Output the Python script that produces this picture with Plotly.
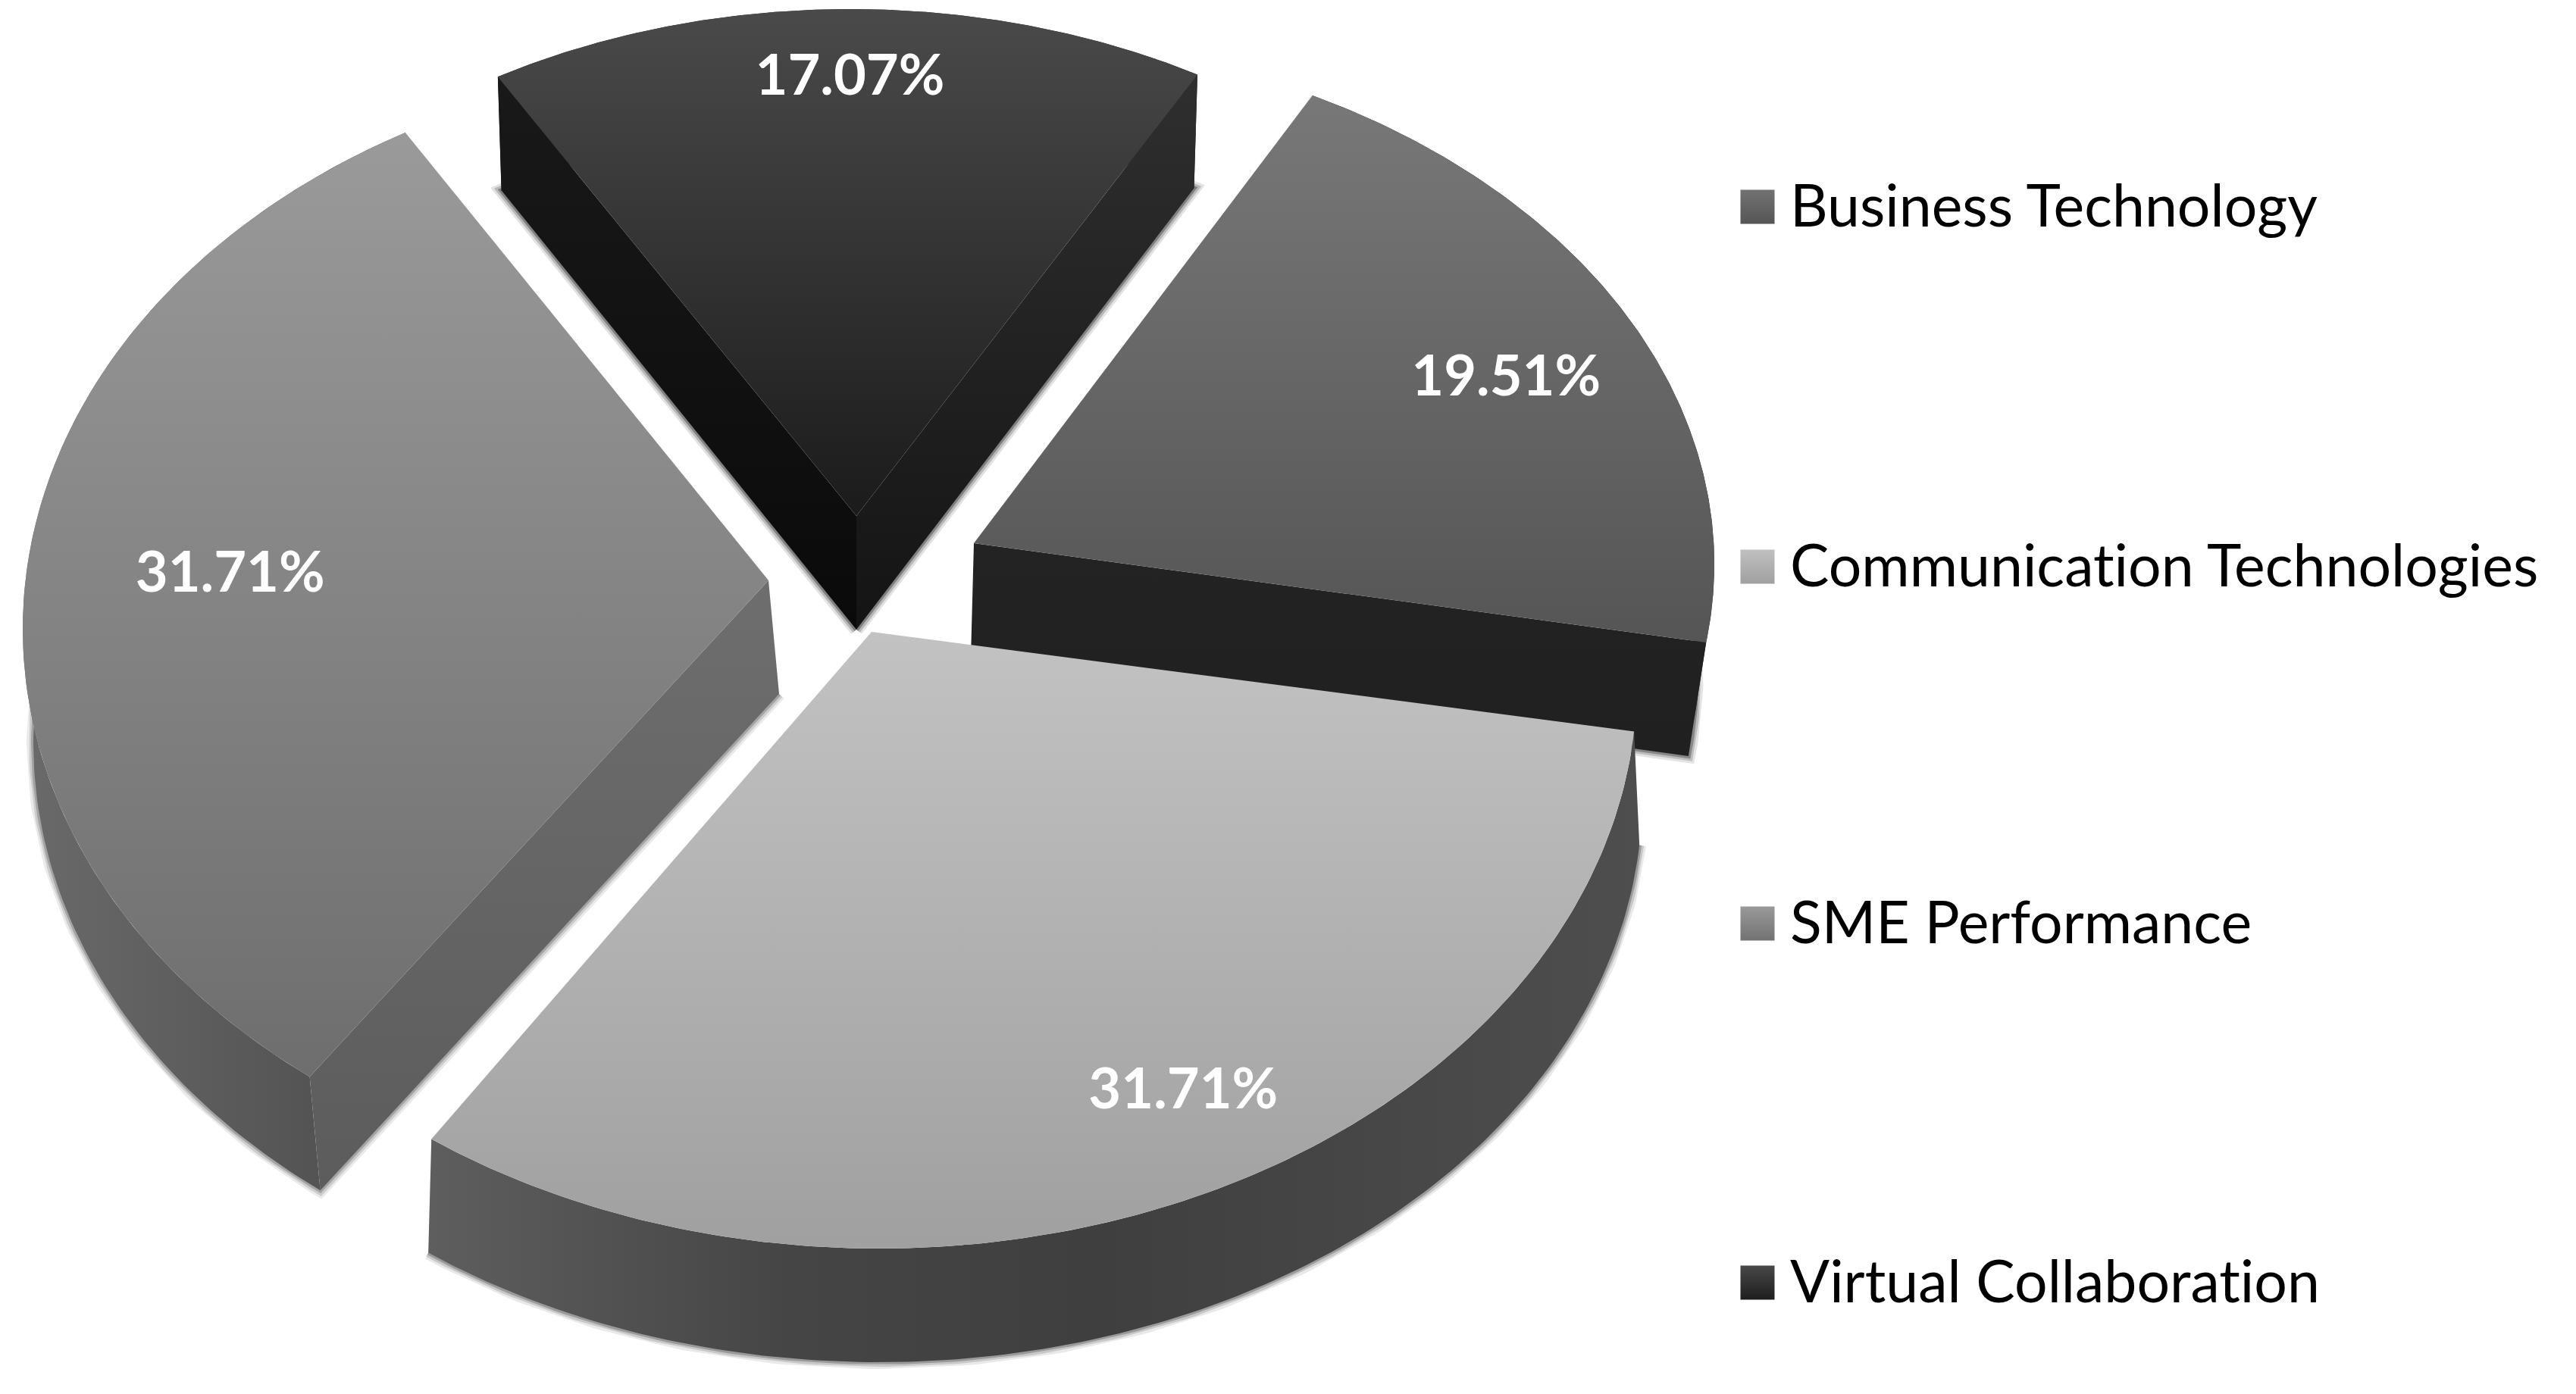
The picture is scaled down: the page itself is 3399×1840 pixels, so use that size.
import math
import plotly.graph_objects as go

# ---- data ----
categories = ["Business Technology", "Communication Technologies", "SME Performance", "Virtual Collaboration"]
shares = [19.51, 31.71, 31.71, 17.07]

# ---- styling of the exploded, tilted pie ----
W, H = 3399, 1840
ROTATION = 28.0
DEPTH = 150
TEXT_DY = 7
apex_x = [1285, 1150, 1014, 1130]
apex_y = [717, 834, 766, 681]
# direction spread used to turn pie angles into on-screen rays
radius_x = [995, 1010, 984, 940]
radius_far = [665, 665, 666, 669]
radius_near = [812, 812, 826, 812]
# perspective ellipse each slice's rim lies on
ellipse_cx = [1285, 1160, 1014, 1122]
ellipse_cy = [745, 900, 830, 694]
ellipse_a = [977, 1000, 984, 940]
ellipse_b = [696, 748, 750, 682]
edge_nudge = [(-1.2, 1.2), (1.0, 2.5), (5.4, 4.7), (3.3, 0.8)]
wall_squeeze = [0.98, 1.007, 1.0, 0.99]
wall_shift = [-4, 0, 14, 0]
show_start_wall = [False, False, True, True]
show_end_wall = [True, False, False, True]
top_shades = [("#787878", "#555555"), ("#c2c2c2", "#a0a0a0"), ("#9a9a9a", "#6e6e6e"), ("#4a4a4a", "#1b1b1b")]
start_wall = [("#2a2a2a", "#2a2a2a"), ("#4a4a4a", "#4a4a4a"), ("#6e6e6e", "#5c5c5c"), ("#191919", "#0a0a0a")]
end_wall = [("#232323", "#202020"), ("#4a4a4a", "#4a4a4a"), ("#6e6e6e", "#5c5c5c"), ("#2f2f2f", "#141414")]
arc_wall = [
    [[0, "#232323"], [1, "#2a2a2a"]],
    [[0, "#5e5e5e"], [0.3, "#454545"], [0.55, "#3f3f3f"], [1, "#4e4e4e"]],
    [[0, "#6a6a6a"], [1, "#4c4c4c"]],
    [[0, "#2a2a2a"], [1, "#2a2a2a"]],
]
halo_rgb = ["34,34,34", "70,70,70", "85,85,85", "20,20,20"]
draw_order = [3, 0, 2, 1]
label_angle = [64.8, 151.3, 271.2, -0.6]
label_frac = [0.78, 0.848, 0.722, 0.87]
legend_y = [273, 748, 1219, 1693]
legend_swatch = [("#727272", "#555555"), ("#c0c0c0", "#a0a0a0"), ("#999999", "#727272"), ("#484848", "#1e1e1e")]
LEGEND_SWATCH_X, LEGEND_TEXT_X = 2319, 2362

# edges of each slice follow from the values
edges = []
running = ROTATION
for i, share in enumerate(shares):
    span = share / sum(shares) * 360
    edges.append((running + edge_nudge[i][0], running + span + edge_nudge[i][1]))
    running += span


def direction(i, deg):
    t = math.radians(deg)
    c = math.cos(t)
    ry = radius_far[i] if c > 0 else radius_near[i]
    return radius_x[i] * math.sin(t), -ry * c


def rim(i, deg):
    # where the ray from the slice tip meets the slice's perspective ellipse
    dx, dy = direction(i, deg)
    px = (apex_x[i] - ellipse_cx[i]) / ellipse_a[i]
    py = (apex_y[i] - ellipse_cy[i]) / ellipse_b[i]
    qx, qy = dx / ellipse_a[i], dy / ellipse_b[i]
    A = qx * qx + qy * qy
    B = 2 * (px * qx + py * qy)
    C = px * px + py * py - 1
    t = (-B + math.sqrt(B * B - 4 * A * C)) / (2 * A)
    return apex_x[i] + t * dx, apex_y[i] + t * dy


def label_point(i):
    dx, dy = direction(i, label_angle[i])
    return apex_x[i] + label_frac[i] * dx, apex_y[i] + label_frac[i] * dy + TEXT_DY


def lower(i, p):
    return apex_x[i] + (p[0] - apex_x[i]) * wall_squeeze[i] + wall_shift[i], p[1] + DEPTH


def poly(points, grad_type, scale):
    xs = [p[0] for p in points] + [points[0][0]]
    ys = [p[1] for p in points] + [points[0][1]]
    axis = xs if grad_type == "horizontal" else ys
    return go.Scatter(
        x=xs, y=ys, mode="lines", line=dict(width=0), fill="toself",
        fillgradient=dict(type=grad_type, colorscale=scale, start=min(axis), stop=max(axis)),
        hoverinfo="skip", showlegend=False,
    )


def two(c):
    return [[0, c[0]], [1, c[1]]]


fig = go.Figure()
for i in draw_order:
    a0, a1 = edges[i]
    n = 160
    arc = [rim(i, a0 + (a1 - a0) * k / n) for k in range(n + 1)]
    apex = (apex_x[i], apex_y[i])
    arc_low = [lower(i, p) for p in arc]
    apex_low = lower(i, apex)

    # soft lower edge
    ring = arc_low[:]
    if show_start_wall[i]:
        ring = [apex_low] + ring
    if show_end_wall[i]:
        ring = ring + [apex_low]
    for width, alpha in ((18, 0.12), (12, 0.2), (6, 0.35)):
        fig.add_trace(go.Scatter(
            x=[p[0] for p in ring], y=[p[1] for p in ring], mode="lines",
            line=dict(width=width, color=f"rgba({halo_rgb[i]},{alpha})"),
            hoverinfo="skip", showlegend=False,
        ))

    fig.add_trace(poly(arc + arc_low[::-1], "horizontal", arc_wall[i]))
    if show_start_wall[i]:
        fig.add_trace(poly([apex, arc[0], arc_low[0], apex_low], "vertical", two(start_wall[i])))
    if show_end_wall[i]:
        fig.add_trace(poly([apex, arc[-1], arc_low[-1], apex_low], "vertical", two(end_wall[i])))
    fig.add_trace(poly([apex] + arc, "vertical", two(top_shades[i])))

# percentage labels
label_pts = [label_point(i) for i in range(len(shares))]
fig.add_trace(go.Scatter(
    x=[p[0] for p in label_pts], y=[p[1] for p in label_pts], mode="text",
    text=[f"{s:.2f}%" for s in shares], textposition="middle center",
    textfont=dict(family="Lato, Open Sans, sans-serif", size=74, color="white", weight="bold"),
    hoverinfo="skip", showlegend=False,
))

# legend column
for i, name in enumerate(categories):
    fig.add_trace(go.Scatter(
        x=[LEGEND_SWATCH_X], y=[legend_y[i]], mode="markers",
        marker=dict(symbol="square", size=45, color=legend_swatch[i][0], line=dict(width=0),
                    gradient=dict(type="vertical", color=legend_swatch[i][1])),
        name=name, hoverinfo="name", showlegend=False,
    ))
fig.add_trace(go.Scatter(
    x=[LEGEND_TEXT_X] * len(categories), y=[y + TEXT_DY for y in legend_y], mode="text", text=categories,
    textposition="middle right",
    textfont=dict(family="Lato, Open Sans, sans-serif", size=77, color="#000000"),
    hoverinfo="skip", showlegend=False,
))

fig.update_layout(
    width=W, height=H, margin=dict(l=0, r=0, t=0, b=0),
    paper_bgcolor="white", plot_bgcolor="white", showlegend=False,
    xaxis=dict(range=[0, W], visible=False, fixedrange=True),
    yaxis=dict(range=[H, 0], visible=False, fixedrange=True),
)
post = """
document.body.style.margin = '0';
var s = document.createElement('style');
s.textContent = 'svg text { font-variant-ligatures: none !important; font-feature-settings: "liga" 0, "clig" 0, "dlig" 0, "calt" 0 !important; }';
document.head.appendChild(s);
"""
fig.write_html("out.html", post_script=post, config={"displayModeBar": False})
